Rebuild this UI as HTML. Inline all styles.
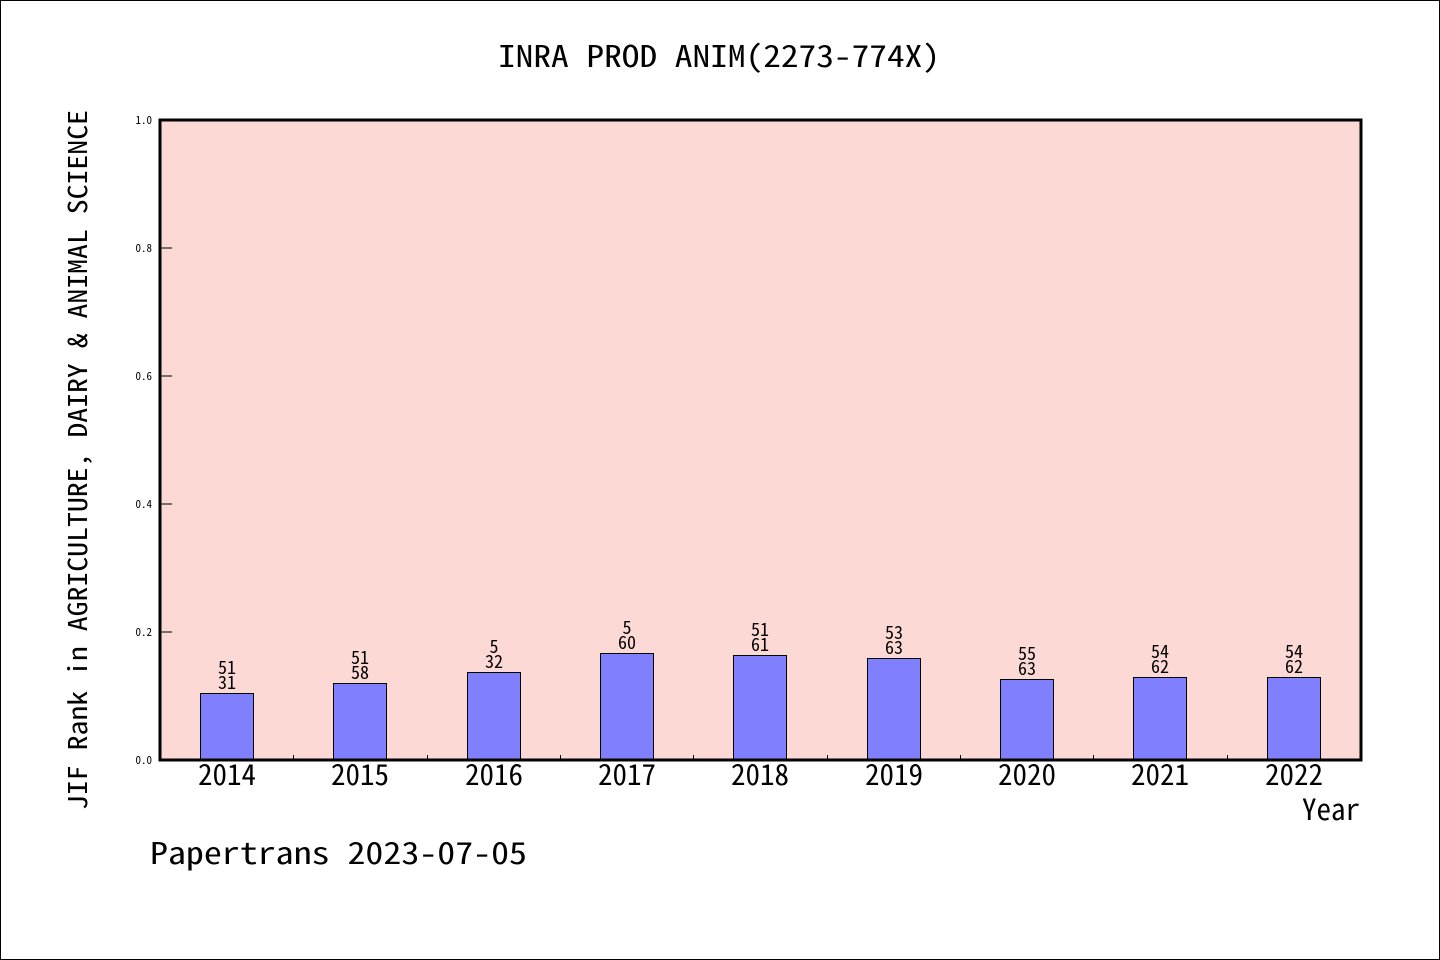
<!DOCTYPE html>
<html><head><meta charset="utf-8"><style>
html,body{margin:0;padding:0;background:#fff;}
svg{display:block;}
text{font-family:"Noto Sans Mono CJK SC","WenQuanYi Zen Hei","Noto Sans CJK SC","Liberation Sans",sans-serif;fill:#000;}
</style></head><body>
<svg width="1440" height="960" viewBox="0 0 1440 960">
<rect x="0.5" y="0.5" width="1439" height="959" fill="#fff" stroke="#000" stroke-width="1"/>
<text x="719" y="67" font-size="30" text-anchor="middle" textLength="442" lengthAdjust="spacingAndGlyphs">INRA PROD ANIM(2273-774X)</text>
<rect x="160" y="120" width="1201" height="640" fill="#fdd9d6"/>
<g fill="#8080ff" stroke="#000" stroke-width="1">
<rect x="200.5" y="693.5" width="53" height="67"/>
<rect x="333.5" y="683.5" width="53" height="77"/>
<rect x="467.5" y="672.5" width="53" height="88"/>
<rect x="600.5" y="653.5" width="53" height="107"/>
<rect x="733.5" y="655.5" width="53" height="105"/>
<rect x="867.5" y="658.5" width="53" height="102"/>
<rect x="1000.5" y="679.5" width="53" height="81"/>
<rect x="1133.5" y="677.5" width="53" height="83"/>
<rect x="1267.5" y="677.5" width="53" height="83"/>
</g>
<rect x="160" y="120" width="1201" height="640" fill="none" stroke="#000" stroke-width="3"/>
<g stroke="#000" stroke-width="1">
<line x1="160" y1="632" x2="172" y2="632"/><line x1="160" y1="504" x2="172" y2="504"/>
<line x1="160" y1="376" x2="172" y2="376"/><line x1="160" y1="248" x2="172" y2="248"/>
<line x1="293.5" y1="755" x2="293.5" y2="760"/><line x1="427.5" y1="755" x2="427.5" y2="760"/>
<line x1="560.5" y1="755" x2="560.5" y2="760"/><line x1="693.5" y1="755" x2="693.5" y2="760"/>
<line x1="827.5" y1="755" x2="827.5" y2="760"/><line x1="960.5" y1="755" x2="960.5" y2="760"/>
<line x1="1093.5" y1="755" x2="1093.5" y2="760"/><line x1="1227.5" y1="755" x2="1227.5" y2="760"/>
</g>
<g font-size="11" text-anchor="end">
<text x="152" y="764">0.0</text><text x="152" y="636">0.2</text><text x="152" y="508">0.4</text>
<text x="152" y="380">0.6</text><text x="152" y="252">0.8</text><text x="152" y="124">1.0</text>
</g>
<g font-size="29" text-anchor="middle">
<text x="227" y="785">2014</text><text x="360" y="785">2015</text><text x="494" y="785">2016</text>
<text x="627" y="785">2017</text><text x="760" y="785">2018</text><text x="894" y="785">2019</text>
<text x="1027" y="785">2020</text><text x="1160" y="785">2021</text><text x="1294" y="785">2022</text>
</g>
<g font-size="18" text-anchor="middle">
<text x="227" y="674">51</text><text x="227" y="689">31</text>
<text x="360" y="664">51</text><text x="360" y="679">58</text>
<text x="494" y="653">5</text><text x="494" y="668">32</text>
<text x="627" y="634">5</text><text x="627" y="649">60</text>
<text x="760" y="636">51</text><text x="760" y="651">61</text>
<text x="894" y="639">53</text><text x="894" y="654">63</text>
<text x="1027" y="660">55</text><text x="1027" y="675">63</text>
<text x="1160" y="658">54</text><text x="1160" y="673">62</text>
<text x="1294" y="658">54</text><text x="1294" y="673">62</text>
</g>
<text x="1360" y="820" font-size="29" text-anchor="end">Year</text>
<text x="150" y="864" font-size="30" textLength="377" lengthAdjust="spacingAndGlyphs">Papertrans 2023-07-05</text>
<text transform="translate(87,460) rotate(-90)" font-size="26" text-anchor="middle" textLength="700" lengthAdjust="spacingAndGlyphs">JIF Rank in AGRICULTURE, DAIRY &amp; ANIMAL SCIENCE</text>
</svg>
</body></html>
